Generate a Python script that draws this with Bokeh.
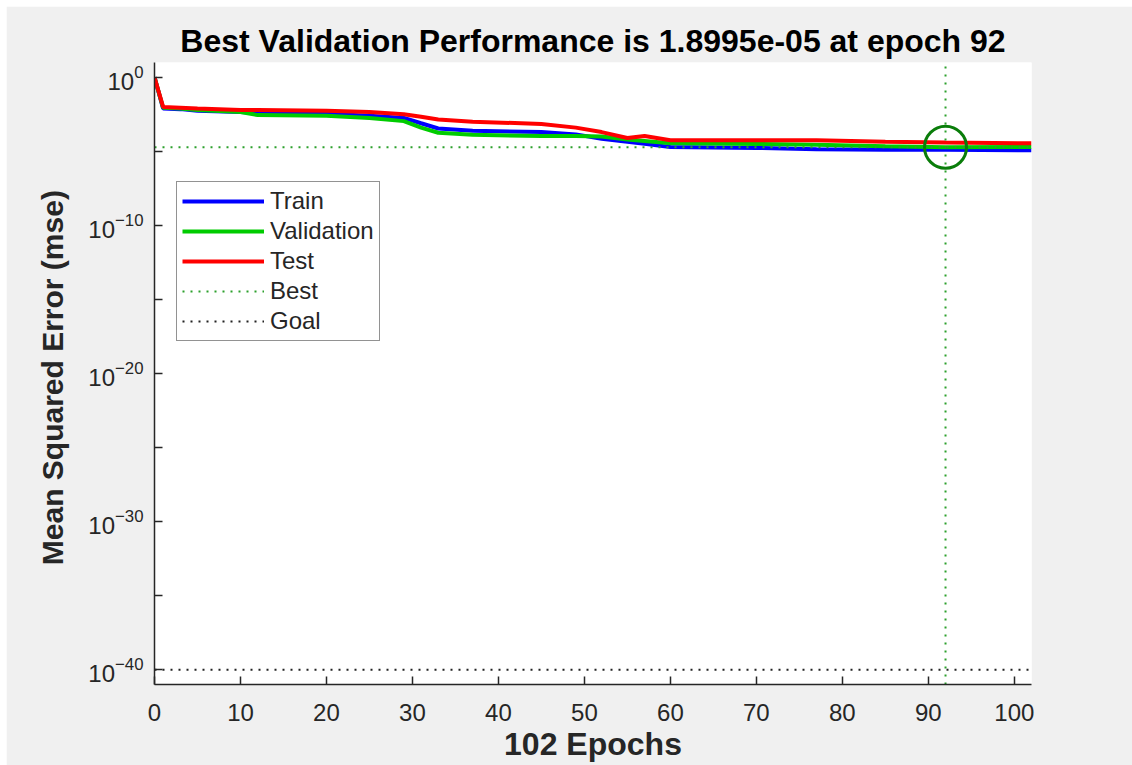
from bokeh.plotting import figure
from bokeh.models import (Range1d, FixedTicker, Legend, LegendItem, LogTickFormatter)
from bokeh.embed import file_html
from bokeh.resources import INLINE

# ---- data ----
epochs = [0, 1, 3, 5, 10, 12, 20, 25, 29, 31, 33, 37, 45, 49, 52, 55, 57, 60, 70, 77, 85, 92, 102]
train = [1.0, 7.9e-3, 7.1e-3, 5.6e-3, 4.5e-3, 4.0e-3, 3.5e-3, 2.5e-3, 1.8e-3, 7.9e-4, 3.5e-4,
         2.5e-4, 2.0e-4, 1.4e-4, 7.1e-5, 4.5e-5, 3.2e-5, 2.0e-5, 1.7e-5, 1.4e-5, 1.3e-5, 1.26e-5, 1.2e-5]
validation = [1.0, 8.9e-3, 7.9e-3, 6.3e-3, 4.5e-3, 2.8e-3, 2.5e-3, 1.8e-3, 1.1e-3, 4.0e-4, 1.8e-4,
              1.3e-4, 1.1e-4, 1.1e-4, 1.0e-4, 6.3e-5, 5.0e-5, 3.5e-5, 3.2e-5, 2.8e-5, 2.2e-5, 1.8995e-5, 2.0e-5]
test = [1.0, 1.0e-2, 8.9e-3, 7.9e-3, 6.3e-3, 6.3e-3, 5.6e-3, 4.5e-3, 3.2e-3, 2.2e-3, 1.4e-3,
        1.0e-3, 7.1e-4, 4.0e-4, 2.0e-4, 7.9e-5, 1.1e-4, 5.6e-5, 5.6e-5, 5.6e-5, 4.5e-5, 4.0e-5, 3.5e-5]

best_epoch = 92
best_perf = 1.8995e-05
goal = 1e-40
n_epochs = 102

x_ticks = [0, 10, 20, 30, 40, 50, 60, 70, 80, 90, 100]
y_major = [1e-40, 1e-30, 1e-20, 1e-10, 1e0]
y_minor = [1e-35, 1e-25, 1e-15, 1e-5]

title_text = "Best Validation Performance is 1.8995e-05 at epoch 92"
x_label = "102 Epochs"
y_label = "Mean Squared Error  (mse)"

FONT = "Liberation Sans"
AX = "#262626"

p = figure(width=1126, height=759, output_backend="svg", toolbar_location=None,
           y_axis_type="log", x_range=Range1d(0, n_epochs), y_range=Range1d(1e-41, 1e1),
           min_border_left=148, min_border_right=101, min_border_top=56, min_border_bottom=81,
           background_fill_color="white", border_fill_color="#f0f0f0",
           outline_line_color=None)
p.margin = (6, 0, 0, 6)

p.title.text = title_text
p.title.align = "center"
p.title.text_font = FONT
p.title.text_font_size = "32px"
p.title.text_font_style = "bold"
p.title.text_color = "black"
p.title.standoff = 7

p.xgrid.visible = False
p.ygrid.visible = False

# axes
p.xaxis.ticker = FixedTicker(ticks=x_ticks)
p.yaxis.ticker = FixedTicker(ticks=y_major, minor_ticks=y_minor)
p.yaxis.formatter = LogTickFormatter()
for ax in (p.xaxis[0], p.yaxis[0]):
    ax.axis_line_color = AX
    ax.axis_line_width = 1.5
    ax.major_tick_line_color = AX
    ax.minor_tick_line_color = AX
    ax.major_tick_line_width = 1.5
    ax.minor_tick_line_width = 1.5
    ax.major_tick_in = 8
    ax.major_tick_out = 0
    ax.minor_tick_in = 8
    ax.minor_tick_out = 0
    ax.major_label_text_font = FONT
    ax.major_label_text_font_size = "24px"
    ax.major_label_text_color = AX
    ax.axis_label_text_font = FONT
    ax.axis_label_text_font_size = "30px"
    ax.axis_label_text_font_style = "bold"
    ax.axis_label_text_color = AX
p.xaxis.axis_label = x_label
p.xaxis.axis_label_text_font_size = "32px"
p.yaxis.axis_label = y_label
p.xaxis.major_label_standoff = 19
p.xaxis.axis_label_standoff = 2
p.yaxis.major_label_standoff = 11
p.yaxis.axis_label_standoff = 16
p.xaxis.minor_tick_line_color = None

# lines
r_train = p.line(epochs, train, line_color="#0000ff", line_width=4)
r_val = p.line(epochs, validation, line_color="#00cc00", line_width=4)
r_test = p.line(epochs, test, line_color="#ff0000", line_width=4)

r_best_h = p.line([0, n_epochs], [best_perf, best_perf], line_color="#2ca02c",
                  line_width=2, line_dash="2 6")
r_best_v = p.line([best_epoch, best_epoch], [1e-41, 1e1], line_color="#2ca02c",
                  line_width=2, line_dash="2 6")
r_goal = p.line([0, n_epochs], [goal, goal], line_color="#222222",
                line_width=2, line_dash="2 6")

p.scatter([best_epoch], [best_perf], marker="circle", size=42, fill_color=None,
          line_color="#0a7d0a", line_width=3)

legend = Legend(items=[
    LegendItem(label="Train", renderers=[r_train]),
    LegendItem(label="Validation", renderers=[r_val]),
    LegendItem(label="Test", renderers=[r_test]),
    LegendItem(label="Best", renderers=[r_best_h]),
    LegendItem(label="Goal", renderers=[r_goal]),
], location=(22, 343))
legend.label_text_font = FONT
legend.label_text_font_size = "24px"
legend.label_text_color = AX
legend.glyph_width = 82
legend.glyph_height = 24
legend.label_height = 24
legend.spacing = 2
legend.padding = 5
legend.label_standoff = 6
legend.border_line_color = AX
legend.border_line_width = 1.5
legend.background_fill_color = "white"
legend.background_fill_alpha = 1.0
p.add_layout(legend)

open("out.html", "w").write(file_html(p, INLINE))
